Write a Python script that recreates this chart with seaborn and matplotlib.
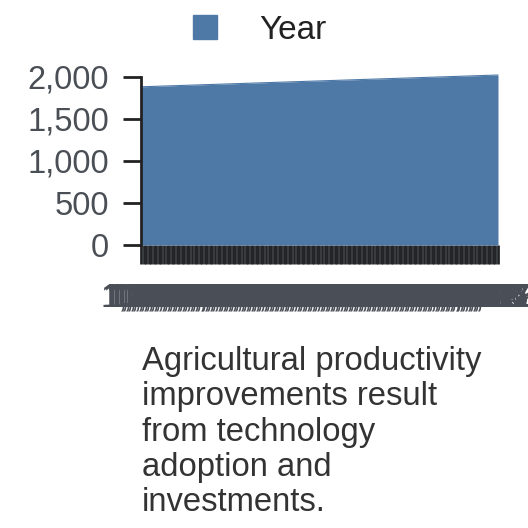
import seaborn as sns
import matplotlib.pyplot as plt
from matplotlib.patches import Patch
import pandas as pd

sns.set_style("white")
plt.rcParams['font.family'] = ['Liberation Sans', 'DejaVu Sans']

# data: each year plotted against itself (the "Year" series)
years = list(range(1880, 2021))
year_values = list(range(1880, 2021))
year_labels = [f"{y:,}" for y in years]
y_ticks = [0, 500, 1000, 1500, 2000]
caption = "Agricultural productivity\nimprovements result\nfrom technology\nadoption and\ninvestments."

df = pd.DataFrame({'idx': range(len(years)), 'Year': year_values})

blue = '#4e79a7'
fig = plt.figure(figsize=(5.28, 5.28), dpi=100)
ax = fig.add_axes([141 / 528, 1 - 245 / 528, 357 / 528, 168.3 / 528])

ax.fill_between(df['idx'], 0, df['Year'], color=blue, lw=0, clip_on=False)
sns.lineplot(data=df, x='idx', y='Year', ax=ax, color=blue, lw=0.8, clip_on=False)

ax.set_xlim(0, len(years) - 1)
ax.set_ylim(0, 2000)
ax.set_yticks(y_ticks)
ax.set_yticklabels([f"{v:,}" for v in y_ticks])
ax.set_xticks(df['idx'])
ax.set_xticklabels(year_labels)
ax.set_xlabel('')
ax.set_ylabel('')

for s in ['top', 'right', 'bottom']:
    ax.spines[s].set_visible(False)
ax.spines['left'].set_color('#222222')
ax.spines['left'].set_linewidth(2)

ax.tick_params(axis='y', length=13, width=2, color='#222222', labelsize=23.5,
               labelcolor='#4a4f55', pad=10, left=True)
ax.tick_params(axis='x', length=14, width=2.0, color='#222428', labelsize=23.5,
               labelcolor='#4a4f57', pad=13, bottom=True)

fig.legend(handles=[Patch(facecolor=blue, edgecolor=blue)], labels=['Year'],
           loc='center', bbox_to_anchor=(0.492, 0.943), frameon=False,
           fontsize=24, handlelength=0.72, handleheight=0.72,
           handletextpad=1.25, labelcolor='#222222')

fig.text(142 / 528, 1 - 346 / 528, caption, ha='left', va='top',
         fontsize=23.6, color='#333333', linespacing=1.18)

fig.savefig('out.png', dpi=100)
plt.close(fig)
